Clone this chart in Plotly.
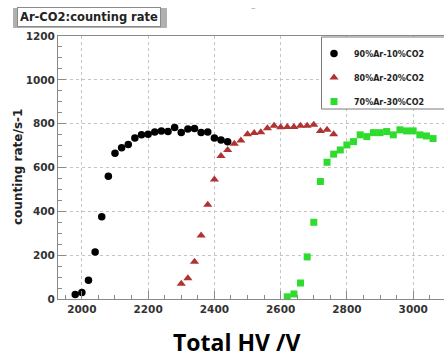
import plotly.graph_objects as go

# ---- data ----
hv_10 = [1980, 2000, 2020, 2040, 2060, 2080, 2100, 2120, 2140, 2160, 2180, 2200,
         2220, 2240, 2260, 2280, 2300, 2320, 2340, 2360, 2380, 2400, 2420, 2440]
rate_10 = [20, 30, 85, 215, 375, 560, 665, 690, 705, 735, 750, 752,
           762, 767, 764, 782, 760, 776, 778, 760, 762, 735, 725, 718]

hv_20 = [2300, 2320, 2340, 2360, 2380, 2400, 2420, 2440, 2460, 2480, 2500, 2520,
         2540, 2560, 2580, 2600, 2620, 2640, 2660, 2680, 2700, 2720, 2740, 2760]
rate_20 = [70, 95, 170, 290, 430, 545, 652, 680, 708, 723, 752, 757,
           761, 779, 790, 784, 785, 785, 790, 790, 795, 767, 772, 752]

hv_30 = [2620, 2640, 2660, 2680, 2700, 2720, 2740, 2760, 2780, 2800, 2820, 2840,
         2860, 2880, 2900, 2920, 2940, 2960, 2980, 3000, 3020, 3040, 3060]
rate_30 = [10, 23, 73, 192, 350, 536, 624, 661, 680, 703, 718, 749,
           741, 759, 759, 764, 749, 772, 767, 767, 749, 744, 732]

names = ["90%Ar-10%CO2", "80%Ar-20%CO2", "70%Ar-30%CO2"]
chart_title = "Ar-CO2:counting rate"
x_title = "Total HV /V"
y_title = "counting rate/s-1"
x_ticks = [2000, 2200, 2400, 2600, 2800, 3000]
y_ticks = [0, 200, 400, 600, 800, 1000, 1200]

W, H = 444, 360
L, R, T, B = 58, 0, 36, 61

fig = go.Figure()
fig.add_trace(go.Scatter(x=hv_10, y=rate_10, mode="markers", name=names[0], legendgroup="a",
                         marker=dict(symbol="circle", size=7.5, color="#000000")))
fig.add_trace(go.Scatter(x=hv_20, y=rate_20, mode="markers", name=names[1], legendgroup="b",
                         marker=dict(symbol="triangle-up", size=8, color="#b03232")))
fig.add_trace(go.Scatter(x=hv_30, y=rate_30, mode="markers", name=names[2], legendgroup="c",
                         marker=dict(symbol="square", size=7, color="#2edc2e")))

tickfont = dict(family="DejaVu Sans", size=10.5, color="#333333", weight="bold")
axis_common = dict(
    showline=True, linecolor="#8a8a8a", linewidth=1,
    ticks="inside", ticklen=8, tickcolor="#8a8a8a", tickwidth=1,
    showgrid=True, gridcolor="#c4c4c4", griddash="dot", gridwidth=1,
    zeroline=False, tickfont=tickfont,
)

fig.update_xaxes(range=[1928, 3093], tickvals=x_ticks, mirror=True,
                 minor=dict(dtick=50, tick0=0, ticks="inside", ticklen=4, tickcolor="#8a8a8a", showgrid=False),
                 **axis_common)
fig.update_yaxes(range=[0, 1200], tickvals=y_ticks, mirror=False,
                 minor=dict(dtick=50, tick0=0, ticks="inside", ticklen=4, tickcolor="#8a8a8a", showgrid=False),
                 **axis_common)

pw = W - L - R
ph = H - T - B

def px_x(p):
    return (p - L) / pw

def px_y(p):
    return (H - B - p) / ph

# title box shadow (slight offset, as in the reference)
fig.add_shape(type="rect", xref="paper", yref="paper",
              x0=px_x(13.5), x1=px_x(166.5), y0=px_y(27.5), y1=px_y(8.5),
              line=dict(color="#b0b0b0", width=1), fillcolor="#b0b0b0", layer="above")

# legend box background (extends off the right edge as in the reference)
fig.add_shape(type="rect", xref="paper", yref="paper",
              x0=px_x(321.5), x1=px_x(460), y0=px_y(109), y1=px_y(37),
              line=dict(color="#7a7a7a", width=1), fillcolor="white", layer="above")

fig.update_layout(
    width=W, height=H,
    margin=dict(l=L, r=R, t=T, b=B),
    paper_bgcolor="white", plot_bgcolor="white",
    showlegend=True,
    legend=dict(x=px_x(314), y=px_y(39), xanchor="left", yanchor="top",
                bgcolor="rgba(0,0,0,0)", borderwidth=0,
                font=dict(family="DejaVu Sans", size=8, color="#222222", weight="bold"),
                traceorder="grouped", tracegroupgap=5, itemwidth=30),
    annotations=[
        dict(text=chart_title, xref="paper", yref="paper", x=px_x(88.5), y=px_y(16.5),
             xanchor="center", yanchor="middle", showarrow=False,
             font=dict(family="DejaVu Sans", size=11.5, color="#222222", weight="bold"),
             bgcolor="white", bordercolor="#8a8a8a", borderwidth=1, borderpad=2),
        dict(text=x_title, xref="paper", yref="paper", x=px_x(236), y=px_y(359),
             xanchor="center", yanchor="bottom", showarrow=False, borderpad=0,
             font=dict(family="Open Sans", size=23, color="#000000", weight="bold")),
        dict(text=y_title, xref="paper", yref="paper", x=px_x(18), y=px_y(167),
             xanchor="center", yanchor="middle", showarrow=False, textangle=-90,
             font=dict(family="DejaVu Sans", size=12, color="#222222", weight="bold")),
        dict(text="\u2013", xref="paper", yref="paper", x=px_x(253), y=px_y(8),
             xanchor="center", yanchor="middle", showarrow=False,
             font=dict(family="DejaVu Sans", size=9, color="#9a9a9a")),
    ],
)

fig.write_html("out.html")
